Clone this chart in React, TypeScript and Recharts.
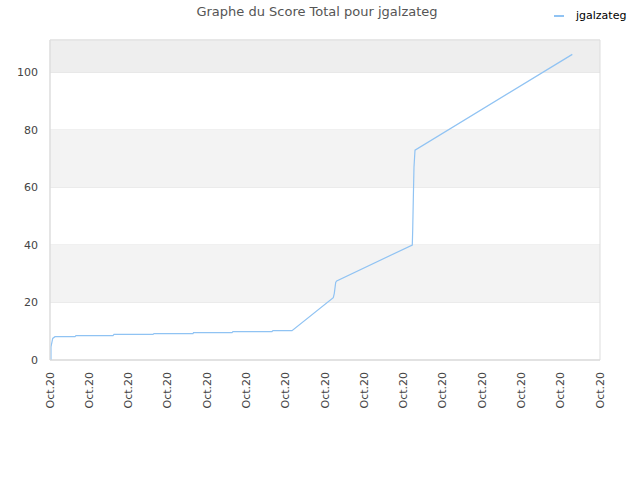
import React from "react";
import {
  CartesianGrid,
  Line,
  LineChart,
  ReferenceArea,
  XAxis,
  YAxis,
} from "recharts";

const title = "Graphe du Score Total pour jgalzateg";
const seriesName = "jgalzateg";

// x position in tick-units (0..14), score
const times = [
  0.025, 0.025, 0.069, 0.127, 0.636, 0.662, 1.604, 1.629, 2.622, 2.647, 3.64,
  3.653, 4.633, 4.658, 5.651, 5.676, 6.16, 7.211, 7.237, 7.272, 7.298, 9.222,
  9.232, 9.248, 9.265, 9.291, 13.295,
];
const scores = [
  0, 4.6, 7.5, 8.1, 8.1, 8.5, 8.5, 8.9, 8.9, 9.2, 9.2, 9.5, 9.5, 9.9, 9.9,
  10.2, 10.2, 21.7, 23.2, 27, 27.5, 40, 45, 56, 67, 73, 106.3,
];
const xTicks = [0, 1, 2, 3, 4, 5, 6, 7, 8, 9, 10, 11, 12, 13, 14];
const xTickLabel = "Oct.20";
const yTicks = [0, 20, 40, 60, 80, 100];
const yMax = 111.3;
const bands = [
  { y1: 20, y2: 40, fill: "#f3f3f3" },
  { y1: 60, y2: 80, fill: "#f3f3f3" },
  { y1: 100, y2: yMax, fill: "#eeeeee" },
];

const data = times.map((t, i) => ({ t, score: scores[i] }));

const font = "'DejaVu Sans', sans-serif";
const lineColor = "#90c3f3";

function XTick(props: any) {
  const { x, y } = props;
  return (
    <text
      x={0}
      y={0}
      transform={`translate(${x},${y + 4}) rotate(-90)`}
      textAnchor="end"
      dominantBaseline="central"
      fontSize={11}
      fill="#444"
      fontFamily={font}
    >
      {xTickLabel}
    </text>
  );
}

export default function App() {
  return (
    <div style={{ position: "absolute", left: 0, top: 0, width: 640, height: 480, background: "#fff" }}>
      <div
        style={{
          position: "absolute",
          top: 4,
          left: 0,
          width: 634,
          textAlign: "center",
          fontFamily: font,
          fontSize: 13,
          color: "#555",
          zIndex: 2,
        }}
      >
        {title}
      </div>
      <div
        style={{
          position: "absolute",
          top: 9,
          left: 554,
          display: "flex",
          alignItems: "center",
          fontFamily: font,
          fontSize: 11,
          color: "#000",
          zIndex: 2,
        }}
      >
        <svg width={14} height={4} style={{ marginRight: 8 }}>
          <line x1={0} y1={2} x2={10} y2={2} stroke={lineColor} strokeWidth={2} />
        </svg>
        {seriesName}
      </div>
      <LineChart
        width={640}
        height={480}
        data={data}
        margin={{ top: 40, right: 40, bottom: 0, left: 0 }}
      >
        {bands.map((b, i) => (
          <ReferenceArea key={i} y1={b.y1} y2={b.y2} fill={b.fill} fillOpacity={1} stroke="none" />
        ))}
        <CartesianGrid vertical={false} stroke="#e2e2e2" />
        <ReferenceArea x1={0} x2={14} y1={0} y2={yMax} fill="none" stroke="#dddddd" />
        <XAxis
          type="number"
          dataKey="t"
          domain={[0, 14]}
          ticks={xTicks}
          interval={0}
          tick={<XTick />}
          tickLine={false}
          axisLine={{ stroke: "#dddddd" }}
          height={120}
        />
        <YAxis
          type="number"
          domain={[0, yMax]}
          ticks={yTicks}
          width={50}
          tickLine={false}
          axisLine={{ stroke: "#dddddd" }}
          tick={{ fontSize: 11, fill: "#444", fontFamily: font }}
          tickMargin={6}
        />
        <Line
          type="linear"
          dataKey="score"
          stroke={lineColor}
          strokeWidth={1.2}
          dot={false}
          isAnimationActive={false}
        />
      </LineChart>
    </div>
  );
}
